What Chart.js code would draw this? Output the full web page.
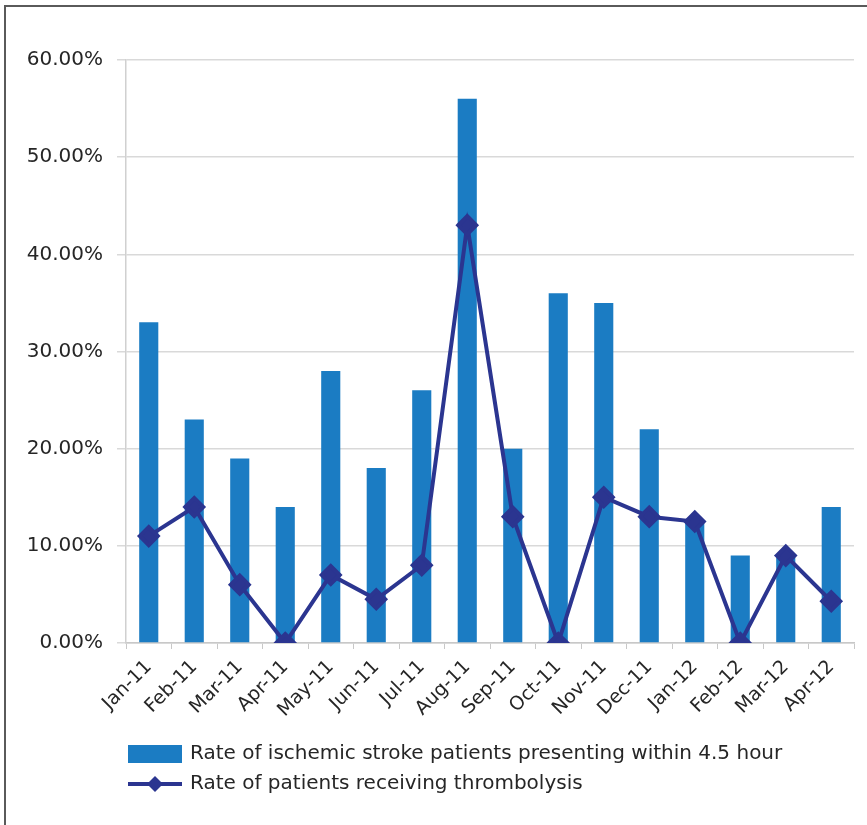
<!DOCTYPE html>
<html lang="en">
<head>
    <meta charset="UTF-8">
    <title>Ischemic stroke and thrombolysis rates</title>
    <script src="https://cdn.jsdelivr.net/npm/chart.js"></script>
    <style>
        html, body {
            margin: 0;
            padding: 0;
            background: #ffffff;
            overflow: hidden;
        }
        .frame {
            position: absolute;
            left: 4px;
            top: 5px;
            width: 900px;
            height: 900px;
            border-top: 2px solid #5a5a5a;
            border-left: 2px solid #5a5a5a;
        }
        #chart {
            position: absolute;
            left: 0;
            top: 0;
        }
    </style>
</head>
<body>
    <div class="frame"></div>
    <canvas id="chart" width="867" height="825"></canvas>

    <script>
        // months on the x axis
        const months = ['Jan-11', 'Feb-11', 'Mar-11', 'Apr-11', 'May-11', 'Jun-11', 'Jul-11', 'Aug-11',
                        'Sep-11', 'Oct-11', 'Nov-11', 'Dec-11', 'Jan-12', 'Feb-12', 'Mar-12', 'Apr-12'];

        // % of ischemic stroke patients presenting within 4.5 hour (bars)
        const presentingRate = [33, 23, 19, 14, 28, 18, 26, 56, 20, 36, 35, 22, 12.5, 9, 8.8, 14];

        // % of patients receiving thrombolysis (line)
        const thrombolysisRate = [11, 14, 6, 0, 7, 4.5, 8, 43, 13, 0, 15, 13, 12.5, 0, 9, 4.3];

        // y axis ticks
        const yTicks = [0, 10, 20, 30, 40, 50, 60];

        const barColor = '#1b7cc3';
        const lineColor = '#2b3590';
        const textColor = '#262626';
        const fontFamily = "'DejaVu Sans', sans-serif";

        // little pictures for the legend (the swatch sits 8px left of the legend cursor)
        function makeSwatch(kind) {
            const c = document.createElement('canvas');
            c.width = 60;
            c.height = 18;
            const g = c.getContext('2d');
            if (kind === 'bar') {
                g.fillStyle = barColor;
                g.fillRect(0, 0, 54, 18);
            } else {
                g.strokeStyle = lineColor;
                g.lineWidth = 4;
                g.beginPath();
                g.moveTo(0, 9);
                g.lineTo(54, 9);
                g.stroke();
                g.fillStyle = lineColor;
                g.beginPath();
                g.moveTo(27, 1);
                g.lineTo(35, 9);
                g.lineTo(27, 17);
                g.lineTo(19, 9);
                g.closePath();
                g.fill();
            }
            return c;
        }
        const swatches = [makeSwatch('bar'), makeSwatch('line')];

        const ctx = document.getElementById('chart').getContext('2d');
        const myChart = new Chart(ctx, {
            type: 'bar',
            data: {
                labels: months,
                datasets: [
                    {
                        type: 'bar',
                        label: 'Rate of ischemic stroke patients presenting within 4.5 hour',
                        data: presentingRate,
                        backgroundColor: barColor,
                        borderWidth: 0,
                        categoryPercentage: 1.0,
                        barPercentage: 0.42,
                        order: 1
                    },
                    {
                        type: 'line',
                        label: 'Rate of patients receiving thrombolysis',
                        data: thrombolysisRate,
                        borderColor: lineColor,
                        backgroundColor: lineColor,
                        borderWidth: 4,
                        pointStyle: 'rectRot',
                        pointRadius: 9,
                        pointBackgroundColor: lineColor,
                        pointBorderColor: lineColor,
                        tension: 0,
                        order: 0
                    }
                ]
            },
            options: {
                responsive: false,
                animation: false,
                layout: {
                    padding: { left: 0, right: 12, top: 60, bottom: 21 }
                },
                plugins: {
                    tooltip: { enabled: false },
                    legend: {
                        position: 'bottom',
                        align: 'start',
                        fullSize: false,
                        labels: {
                            usePointStyle: true,
                            pointStyleWidth: 44,
                            boxHeight: 18,
                            padding: 10,
                            color: textColor,
                            font: { family: fontFamily, size: 20 },
                            sort: (a, b) => a.datasetIndex - b.datasetIndex,
                            generateLabels: (chart) =>
                                Chart.defaults.plugins.legend.labels.generateLabels(chart)
                                    .map(item => ({ ...item, pointStyle: swatches[item.datasetIndex] }))
                        }
                    }
                },
                scales: {
                    x: {
                        offset: true,
                        grid: {
                            offset: true,
                            drawOnChartArea: false,
                            tickLength: 6,
                            color: '#c8c8c8'
                        },
                        border: { color: '#c8c8c8', width: 1.5 },
                        ticks: {
                            autoSkip: false,
                            maxRotation: 45,
                            minRotation: 45,
                            padding: 7,
                            color: textColor,
                            font: { family: fontFamily, size: 19 }
                        },
                        afterFit: (scale) => { scale.height = 91; }
                    },
                    y: {
                        min: yTicks[0],
                        max: yTicks[yTicks.length - 1],
                        afterBuildTicks: (scale) => {
                            scale.ticks = yTicks.map(v => ({ value: v }));
                        },
                        grid: {
                            color: '#d9d9d9',
                            lineWidth: 1.5,
                            tickLength: 9
                        },
                        border: { color: '#d0d0d0', width: 1.5 },
                        ticks: {
                            padding: 14,
                            color: textColor,
                            font: { family: fontFamily, size: 20 },
                            callback: (v) => v.toFixed(2) + '%'
                        },
                        afterFit: (scale) => { scale.width = 126; }
                    }
                }
            }
        });
    </script>
</body>
</html>
